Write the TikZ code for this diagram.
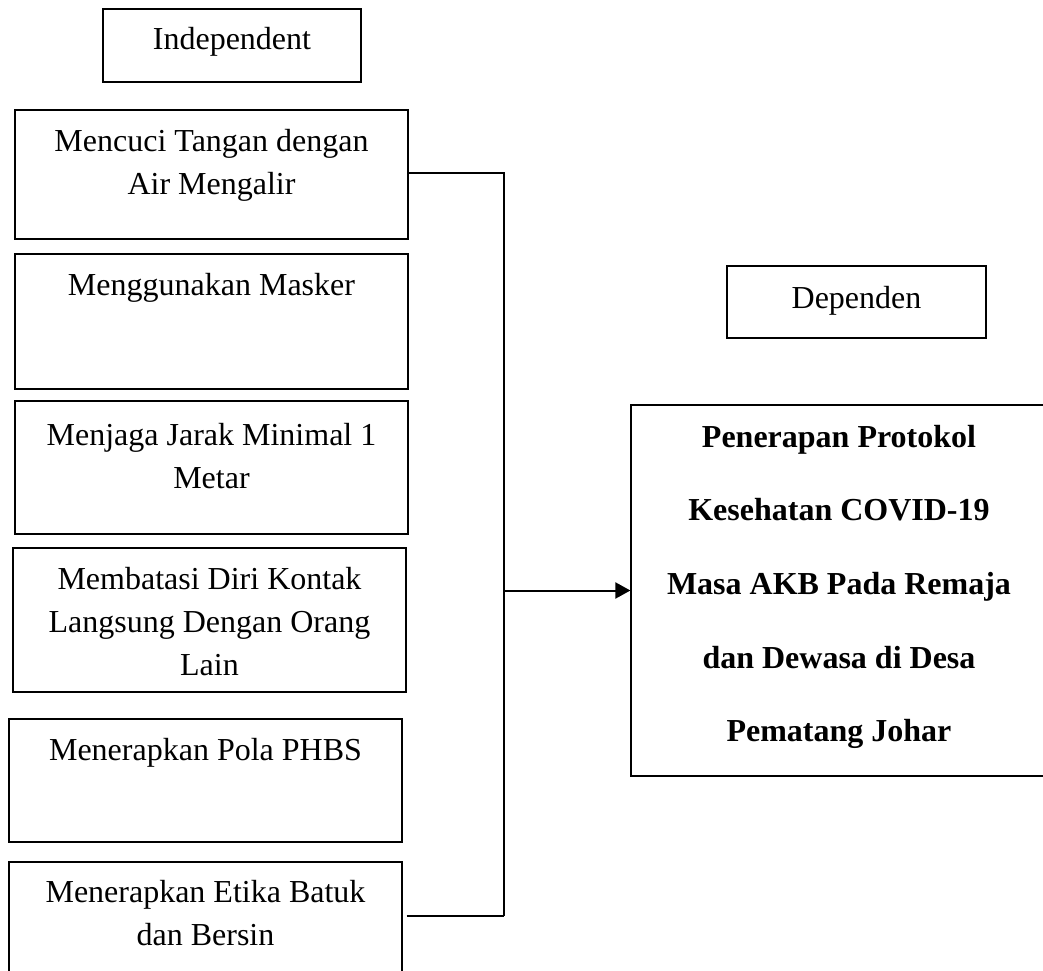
\documentclass[tikz,border=0pt]{standalone}
\usepackage{fontspec}
\setmainfont{Liberation Serif}
\usetikzlibrary{arrows.meta}
\begin{document}
\begin{tikzpicture}[x=1pt,y=1pt,
  box/.style={draw=black, line width=1.2pt, inner sep=0pt, rectangle},
  txt/.style={inner sep=0pt, align=center, font=\fontsize{32}{43}\selectfont},
  btxt/.style={inner sep=0pt, align=center, font=\fontsize{32}{73.6}\selectfont\bfseries},
  conn/.style={line width=1.3pt, draw=black}]
\useasboundingbox (0,0) rectangle (1043,970);
% boxes
\node[box, minimum width=258pt, minimum height=73pt] (ind) at (232,924.5) {};
\node[box, minimum width=393pt, minimum height=129pt] (b1) at (211.5,795.5) {};
\node[box, minimum width=393pt, minimum height=135pt] (b2) at (211.5,648.5) {};
\node[box, minimum width=393pt, minimum height=133pt] (b3) at (211.5,502.5) {};
\node[box, minimum width=393pt, minimum height=144pt] (b4) at (209.5,350) {};
\node[box, minimum width=393pt, minimum height=123pt] (b5) at (205.5,189.5) {};
\node[box, minimum width=393pt, minimum height=160pt] (b6) at (205.5,28) {};
\node[box, minimum width=259pt, minimum height=72pt] (dep) at (856.5,668) {};
\node[box, minimum width=418pt, minimum height=371pt] (main) at (840,379.5) {};
% texts
\node[txt, anchor=base] (tind) at (232,920) {Independent};
\node[txt, anchor=north] (t1) at (211.5,848.4) {\strut Mencuci Tangan dengan\\Air Mengalir};
\node[txt, anchor=base] (t2) at (211.5,674) {Menggunakan Masker};
\node[txt, anchor=north] (t3) at (211.5,555.1) {\strut Menjaga Jarak Minimal 1\\Metar};
\node[txt, anchor=north] (t4) at (209.5,411.1) {\strut Membatasi Diri Kontak\\Langsung Dengan Orang\\Lain};
\node[txt, anchor=base] (t5) at (205.5,210) {Menerapkan Pola PHBS};
\node[txt, anchor=north] (t6) at (205.5,98.1) {\strut Menerapkan Etika Batuk\\dan Bersin};
\node[txt, anchor=base] (tdep) at (856.5,661) {Dependen};
\node[btxt, anchor=north] (tmain) at (839,574.5) {\strut Penerapan Protokol\\Kesehatan COVID-19\\Masa AKB Pada Remaja\\dan Dewasa di Desa\\Pematang Johar};
% connectors
\coordinate (top) at (504,797);
\coordinate (bot) at (504,54);
\draw[conn] (b1.east |- top) -- (top) -- (bot);
\draw[conn] ([xshift=4pt]b6.east |- bot) -- (bot);
\draw[conn, line width=2pt, -{Triangle[length=15pt,width=16pt]}] (top |- main.west) -- (main.west);
\end{tikzpicture}
\end{document}
